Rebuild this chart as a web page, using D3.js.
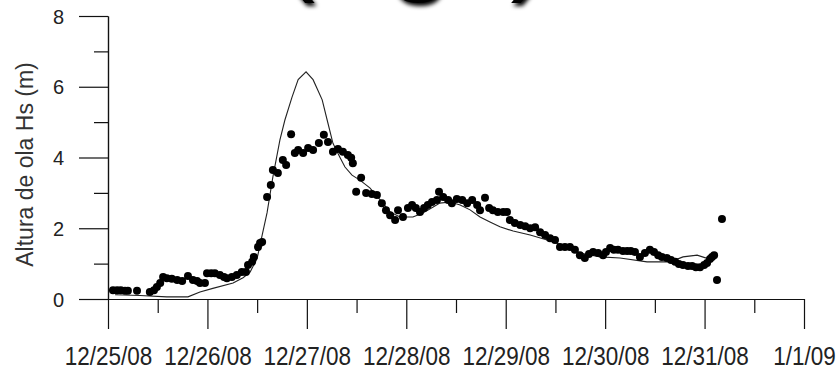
<!DOCTYPE html>
<html>
<head>
<meta charset="utf-8">
<script src="https://cdn.jsdelivr.net/npm/d3@7"></script>
<style>
  html, body { margin: 0; padding: 0; background: #fff; }
  svg { display: block; }
  text { font-family: "Liberation Sans", Arial, sans-serif; fill: #111; }
</style>
</head>
<body>
<svg id="chart" width="837" height="370"></svg>
<script>
// Wave height record, 25 Dec 2008 – 1 Jan 2009.
// Times are hours after 12/25/08 00:00.
const startDate = new Date(2008, 11, 25);
const endDate = new Date(2009, 0, 1);

// Model hindcast (thin line)
const modelHours = [1.7, 7.7, 14.2, 19.3, 22.2, 25.3, 30.2, 32.6, 34.3, 36.0, 37.2, 38.4, 39.8, 41.5, 42.7, 44.4, 45.9, 47.8, 49.5, 51.7, 52.9, 54.3, 56.0, 57.2, 58.9, 60.8, 63.2, 65.7, 68.1, 70.5, 73.6, 76.0, 78.5, 80.1, 82.6, 85.0, 87.4, 89.8, 92.2, 94.6, 97.8, 101.9, 106.0, 109.1, 114.0, 118.8, 123.6, 130.1, 135.7, 138.8, 142.2, 144.6, 145.8];
const modelHs = [0.12, 0.10, 0.06, 0.06, 0.20, 0.30, 0.45, 0.60, 0.76, 1.15, 1.80, 2.44, 3.45, 4.50, 5.06, 5.70, 6.20, 6.42, 6.20, 5.63, 5.06, 4.40, 4.00, 3.73, 3.50, 3.36, 3.14, 2.80, 2.46, 2.32, 2.32, 2.43, 2.60, 2.71, 2.74, 2.66, 2.52, 2.32, 2.18, 2.04, 1.92, 1.81, 1.67, 1.55, 1.30, 1.19, 1.16, 1.05, 1.05, 1.19, 1.24, 1.15, 1.20];

// Buoy observations (dots)
const obsHours = [1.2, 2.2, 3.1, 4.1, 4.8, 7.0, 10.1, 11.1, 11.8, 12.6, 13.3, 14.2, 15.4, 16.7, 17.9, 19.3, 20.5, 21.5, 22.2, 23.4, 23.9, 24.9, 25.8, 27.0, 28.0, 28.7, 29.9, 31.1, 32.3, 33.3, 33.8, 34.8, 35.2, 36.2, 36.7, 37.2, 38.4, 39.3, 39.8, 41.0, 42.2, 43.0, 44.2, 45.1, 45.9, 47.1, 48.3, 49.5, 50.9, 52.1, 53.1, 54.3, 55.5, 56.7, 57.9, 58.7, 59.1, 59.9, 61.1, 62.3, 63.7, 64.9, 66.1, 67.1, 68.1, 69.3, 70.0, 71.2, 72.4, 73.4, 74.3, 75.3, 76.3, 77.2, 78.2, 79.4, 79.9, 80.9, 82.1, 83.0, 84.2, 85.5, 86.7, 87.9, 89.1, 89.8, 91.0, 92.0, 92.9, 94.1, 95.4, 96.3, 97.0, 98.2, 99.5, 100.7, 101.9, 103.1, 104.3, 105.5, 106.7, 107.9, 109.1, 110.3, 111.5, 112.7, 113.9, 115.1, 116.1, 117.1, 118.3, 119.5, 120.2, 121.2, 122.1, 123.1, 124.3, 125.3, 126.2, 127.2, 128.4, 129.6, 130.8, 131.8, 132.8, 133.7, 134.9, 135.9, 136.9, 137.8, 138.8, 140.0, 141.0, 141.9, 142.9, 143.9, 144.6, 145.3, 145.8, 146.3, 147.0, 148.2];
const obsHs = [0.25, 0.25, 0.25, 0.23, 0.23, 0.23, 0.20, 0.25, 0.34, 0.45, 0.62, 0.59, 0.57, 0.54, 0.51, 0.65, 0.54, 0.51, 0.45, 0.45, 0.73, 0.73, 0.73, 0.68, 0.62, 0.59, 0.62, 0.68, 0.76, 0.76, 0.96, 1.05, 1.19, 1.47, 1.58, 1.61, 2.88, 3.22, 3.65, 3.56, 3.93, 3.79, 4.66, 4.13, 4.21, 4.13, 4.27, 4.21, 4.41, 4.64, 4.44, 4.16, 4.24, 4.16, 4.07, 3.99, 3.84, 3.03, 3.43, 3.00, 2.97, 2.94, 2.71, 2.51, 2.37, 2.23, 2.51, 2.32, 2.57, 2.66, 2.57, 2.46, 2.57, 2.66, 2.74, 2.80, 3.03, 2.88, 2.80, 2.71, 2.83, 2.80, 2.71, 2.80, 2.66, 2.51, 2.86, 2.57, 2.51, 2.46, 2.46, 2.46, 2.23, 2.15, 2.09, 2.06, 2.00, 2.03, 1.89, 1.81, 1.72, 1.67, 1.47, 1.47, 1.47, 1.39, 1.24, 1.16, 1.27, 1.33, 1.30, 1.24, 1.33, 1.44, 1.39, 1.39, 1.36, 1.36, 1.36, 1.33, 1.19, 1.30, 1.39, 1.33, 1.24, 1.19, 1.16, 1.10, 1.05, 0.99, 0.96, 0.93, 0.93, 0.90, 0.90, 0.96, 1.02, 1.13, 1.19, 1.24, 0.54, 2.26];

const yMajorTicks = [0, 2, 4, 6, 8];
const yMinorTicks = [1, 3, 5, 7];
const yLabel = "Altura de ola Hs (m)";
const titleText = "(Ago)";

const HOUR = 3600 * 1000;
const toDate = h => new Date(startDate.getTime() + h * HOUR);

const svg = d3.select("#chart");
const plotLeft = 108, plotRight = 804, plotTop = 16, plotBottom = 299;

const x = d3.scaleTime().domain([startDate, endDate]).range([plotLeft, plotRight]);
const y = d3.scaleLinear().domain([0, 8]).range([plotBottom, plotTop]);

// Large title, mostly above the visible area
const shadow = svg.append("defs").append("filter").attr("id", "soft")
  .attr("x", "-20%").attr("y", "-20%").attr("width", "140%").attr("height", "160%");
shadow.append("feGaussianBlur").attr("in", "SourceAlpha").attr("stdDeviation", 2).attr("result", "b");
shadow.append("feOffset").attr("in", "b").attr("dx", 2).attr("dy", 3).attr("result", "o");
const fm = shadow.append("feMerge");
fm.append("feMergeNode").attr("in", "o");
fm.append("feMergeNode").attr("in", "SourceGraphic");

svg.append("text")
  .attr("x", 278).attr("y", -20)
  .attr("font-size", 112)
  .attr("letter-spacing", -1)
  .attr("filter", "url(#soft)")
  .style("fill", "#000")
  .text(titleText);

// Y axis: major + minor ticks
const yAxisMajor = d3.axisLeft(y).tickValues(yMajorTicks).tickSizeInner(29).tickSizeOuter(0).tickFormat(d3.format("d"));
const yAxisMinor = d3.axisLeft(y).tickValues(yMinorTicks).tickSizeInner(14).tickSizeOuter(0).tickFormat("");

const gyMinor = svg.append("g").attr("transform", `translate(${plotLeft},0)`).call(yAxisMinor);
const gy = svg.append("g").attr("transform", `translate(${plotLeft},0)`).call(yAxisMajor);
[gy, gyMinor].forEach(g => {
  g.selectAll("path, line").attr("stroke", "#111").attr("stroke-width", 1.2);
  g.attr("font-family", null);
});
gy.selectAll("text")
  .attr("x", -44).attr("dy", "0.36em")
  .attr("font-size", 20)
  .style("fill", "#222");

// X axis: daily major ticks, half-day minor ticks
const days = d3.timeDay.range(startDate, d3.timeDay.offset(endDate, 1));
const halfDays = days.slice(0, -1).map(d => d3.timeHour.offset(d, 12));
const fmt = d3.timeFormat("%-m/%-d/%y");

const xAxisMajor = d3.axisBottom(x).tickValues(days).tickSizeInner(30).tickSizeOuter(0).tickFormat(fmt);
const xAxisMinor = d3.axisBottom(x).tickValues(halfDays).tickSizeInner(14).tickSizeOuter(0).tickFormat("");

const gxMinor = svg.append("g").attr("transform", `translate(0,${plotBottom})`).call(xAxisMinor);
const gx = svg.append("g").attr("transform", `translate(0,${plotBottom})`).call(xAxisMajor);
[gx, gxMinor].forEach(g => {
  g.selectAll("path, line").attr("stroke", "#111").attr("stroke-width", 1.2);
  g.attr("font-family", null);
});
gx.selectAll("text")
  .attr("y", 66).attr("dy", 0)
  .attr("font-size", 25)
  .attr("transform", "scale(0.9,1)")
  .style("fill", "#222");

// Y axis title
svg.append("text")
  .attr("transform", `translate(33,${(plotTop + plotBottom) / 2 + 7}) rotate(-90)`)
  .attr("text-anchor", "middle")
  .attr("font-size", 23)
  .style("fill", "#333")
  .text(yLabel);

// Model line
const line = d3.line()
  .x((d, i) => x(toDate(modelHours[i])))
  .y(d => y(d));
svg.append("path")
  .datum(modelHs)
  .attr("fill", "none")
  .attr("stroke", "#222")
  .attr("stroke-width", 1.1)
  .attr("d", line);

// Observations
svg.append("g").selectAll("circle")
  .data(obsHs)
  .join("circle")
  .attr("cx", (d, i) => x(toDate(obsHours[i])))
  .attr("cy", d => y(d))
  .attr("r", 4)
  .attr("fill", "#000");
</script>
</body>
</html>
